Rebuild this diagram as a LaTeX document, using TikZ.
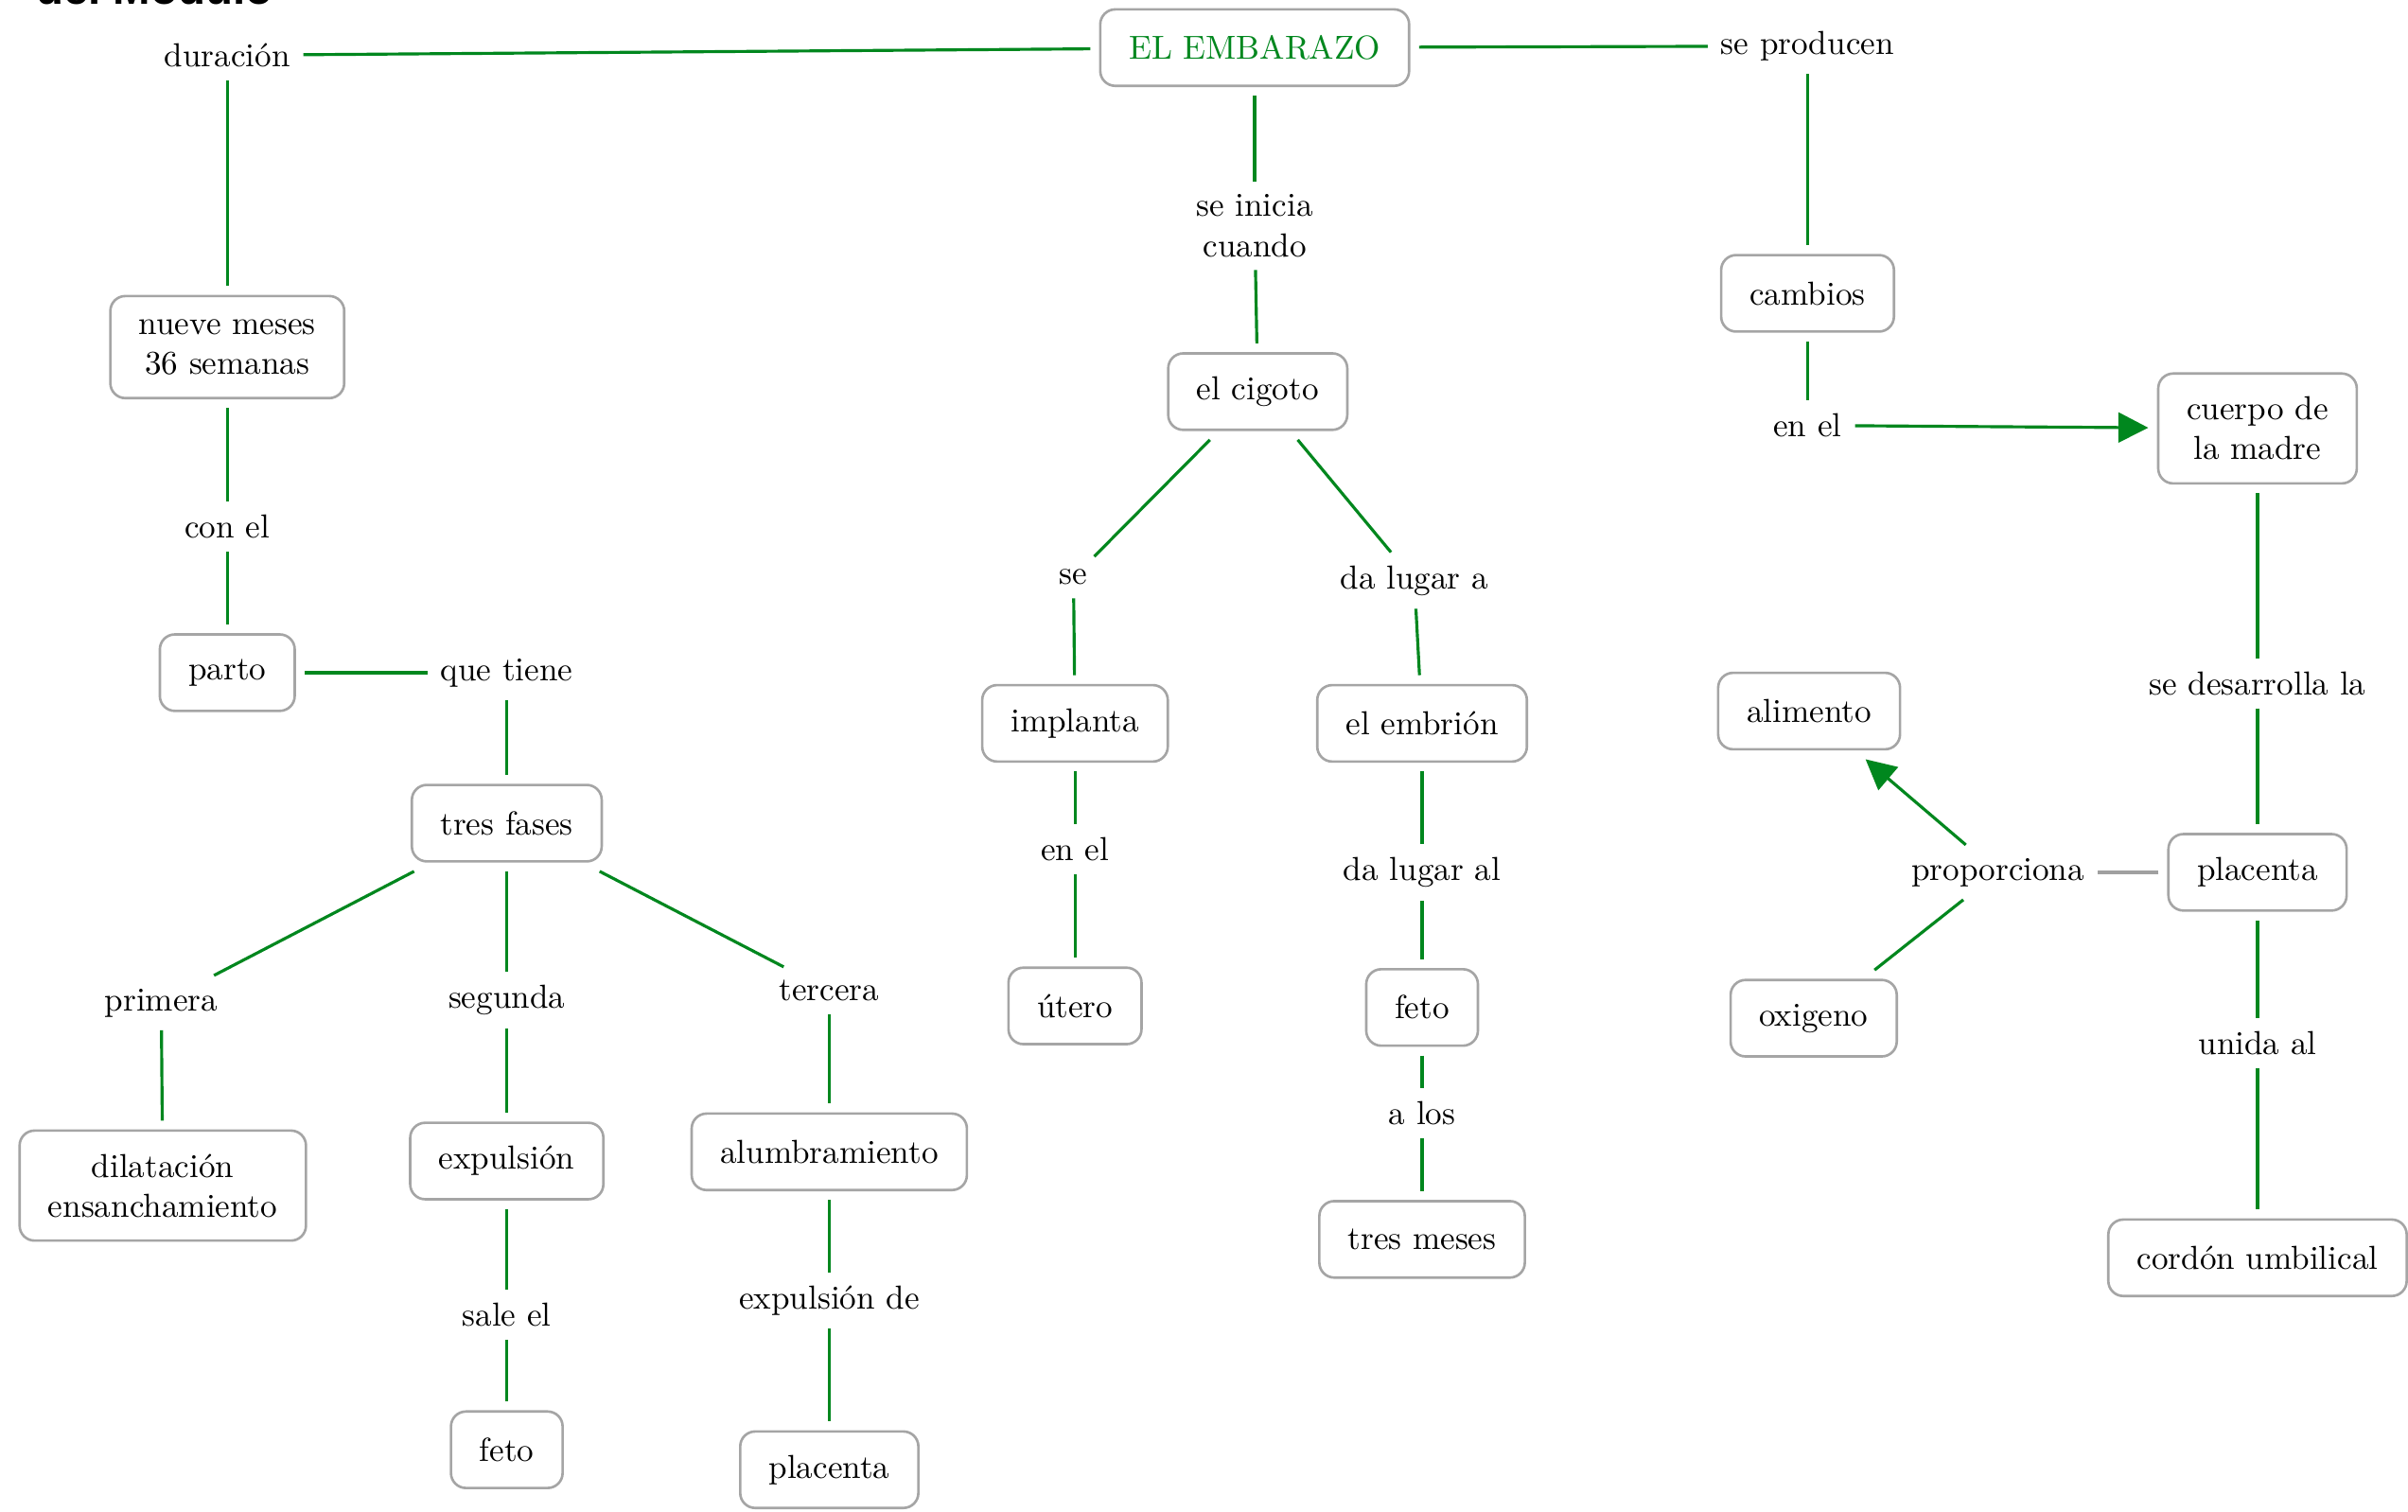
\documentclass[tikz,border=0pt]{standalone}
\usepackage{fontspec}
\newfontfamily\headfont{Liberation Sans}
\usetikzlibrary{arrows.meta}
\definecolor{mapgreen}{RGB}{0,135,30}
\definecolor{boxgray}{RGB}{165,165,165}
\definecolor{linkgray}{RGB}{160,160,160}
\tikzset{
  concept/.style={draw=boxgray, line width=0.75pt, rounded corners=4.5pt, fill=white,
    inner xsep=8.6pt, inner ysep=7pt, minimum height=23pt, align=center,
    font=\fontsize{10}{12}\selectfont, outer sep=3pt},
  linkword/.style={inner sep=1pt, outer sep=3pt, align=center,
    font=\fontsize{10}{12}\selectfont},
  conn/.style={draw=mapgreen, line width=0.9pt},
  grayconn/.style={draw=linkgray, line width=0.9pt},
  arrowtip/.style={-{Triangle[length=9pt,width=9pt]}}
}
\begin{document}
\begin{tikzpicture}[x=0.01623cm, y=-0.01623cm]
\useasboundingbox (0,0) rectangle (1568,984);
\clip (0,0) rectangle (1568,984);
\fill[white] (0,0) rectangle (1568,984);

% heading running off the top edge
\node[anchor=base west, inner sep=0, font=\headfont\bfseries\fontsize{13.5}{15}\selectfont] (head) at (23,2.5) {del Módulo};

% central concept
\node[concept, text=mapgreen] (emb) at (817,31) {EL EMBARAZO};

% left branch: duration and birth
\node[linkword] (dur) at (148,36) {duración};
\node[concept] (nueve) at (148,226) {nueve meses\\36 semanas};
\node[linkword] (conel) at (148,343) {con el};
\node[concept] (parto) at (148,438) {parto};
\node[linkword] (tiene) at (330,438) {que tiene};
\node[concept] (fases) at (330,536) {tres fases};
\node[linkword] (prim) at (105,653) {primera};
\node[linkword] (seg) at (330,651) {segunda};
\node[linkword] (terc) at (540,645) {tercera};
\node[concept] (dilat) at (106,772) {dilatación\\ensanchamiento};
\node[concept] (expul) at (330,756) {expulsión};
\node[concept] (alumb) at (540,750) {alumbramiento};
\node[linkword] (sale) at (330,856) {sale el};
\node[linkword] (expde) at (540,847) {expulsión de};
\node[concept] (fetoA) at (330,944) {feto};
\node[concept] (placA) at (540,957) {placenta};

% middle branch: the zygote
\node[linkword] (inicia) at (817,147) {se inicia\\cuando};
\node[concept] (cigoto) at (819,255) {el cigoto};
\node[linkword] (se) at (699,376) {se};
\node[linkword] (dalugar) at (921,378) {da lugar a};
\node[concept] (implanta) at (700,471) {implanta};
\node[concept] (embrion) at (926,471) {el embrión};
\node[linkword] (enelB) at (700,553) {en el};
\node[linkword] (dalugaral) at (926,568) {da lugar al};
\node[concept] (utero) at (700,655) {útero};
\node[concept] (fetoB) at (926,656) {feto};
\node[linkword] (alos) at (926,725) {a los};
\node[concept] (tresm) at (926,807) {tres meses};

% right branch: changes in the mother
\node[linkword] (prod) at (1177,30) {se producen};
\node[concept] (cambios) at (1177,191) {cambios};
\node[linkword] (enelC) at (1177,277) {en el};
\node[concept] (cuerpo) at (1470,279) {cuerpo de\\la madre};
\node[linkword] (desarrolla) at (1470,445) {se desarrolla la};
\node[concept] (placB) at (1470,568) {placenta};
\node[linkword] (proporciona) at (1301,568) {proporciona};
\node[concept] (alimento) at (1178,463) {alimento};
\node[concept] (oxigeno) at (1181,663) {oxigeno};
\node[linkword] (unida) at (1470,679) {unida al};
\node[concept] (cordon) at (1470,819) {cordón umbilical};

% connectors
\draw[conn] (emb) -- (dur);
\draw[conn] (dur) -- (nueve);
\draw[conn] (nueve) -- (conel);
\draw[conn] (conel) -- (parto);
\draw[conn] (parto) -- (tiene);
\draw[conn] (tiene) -- (fases);
\draw[conn] (fases) -- (prim);
\draw[conn] (fases) -- (seg);
\draw[conn] (fases) -- (terc);
\draw[conn] (prim) -- (dilat);
\draw[conn] (seg) -- (expul);
\draw[conn] (terc) -- (alumb);
\draw[conn] (expul) -- (sale);
\draw[conn] (sale) -- (fetoA);
\draw[conn] (alumb) -- (expde);
\draw[conn] (expde) -- (placA);

\draw[conn] (emb) -- (inicia);
\draw[conn] (inicia) -- (cigoto);
\draw[conn] (cigoto) -- (se);
\draw[conn] (cigoto) -- (dalugar);
\draw[conn] (se) -- (implanta);
\draw[conn] (dalugar) -- (embrion);
\draw[conn] (implanta) -- (enelB);
\draw[conn] (enelB) -- (utero);
\draw[conn] (embrion) -- (dalugaral);
\draw[conn] (dalugaral) -- (fetoB);
\draw[conn] (fetoB) -- (alos);
\draw[conn] (alos) -- (tresm);

\draw[conn] (emb) -- (prod);
\draw[conn] (prod) -- (cambios);
\draw[conn] (cambios) -- (enelC);
\draw[conn, arrowtip] (enelC) -- (cuerpo);
\draw[conn] (cuerpo) -- (desarrolla);
\draw[conn] (desarrolla) -- (placB);
\draw[grayconn] (placB) -- (proporciona);
\draw[conn, arrowtip] (proporciona) -- (alimento);
\draw[conn] (proporciona) -- (oxigeno);
\draw[conn] (placB) -- (unida);
\draw[conn] (unida) -- (cordon);
\end{tikzpicture}
\end{document}
